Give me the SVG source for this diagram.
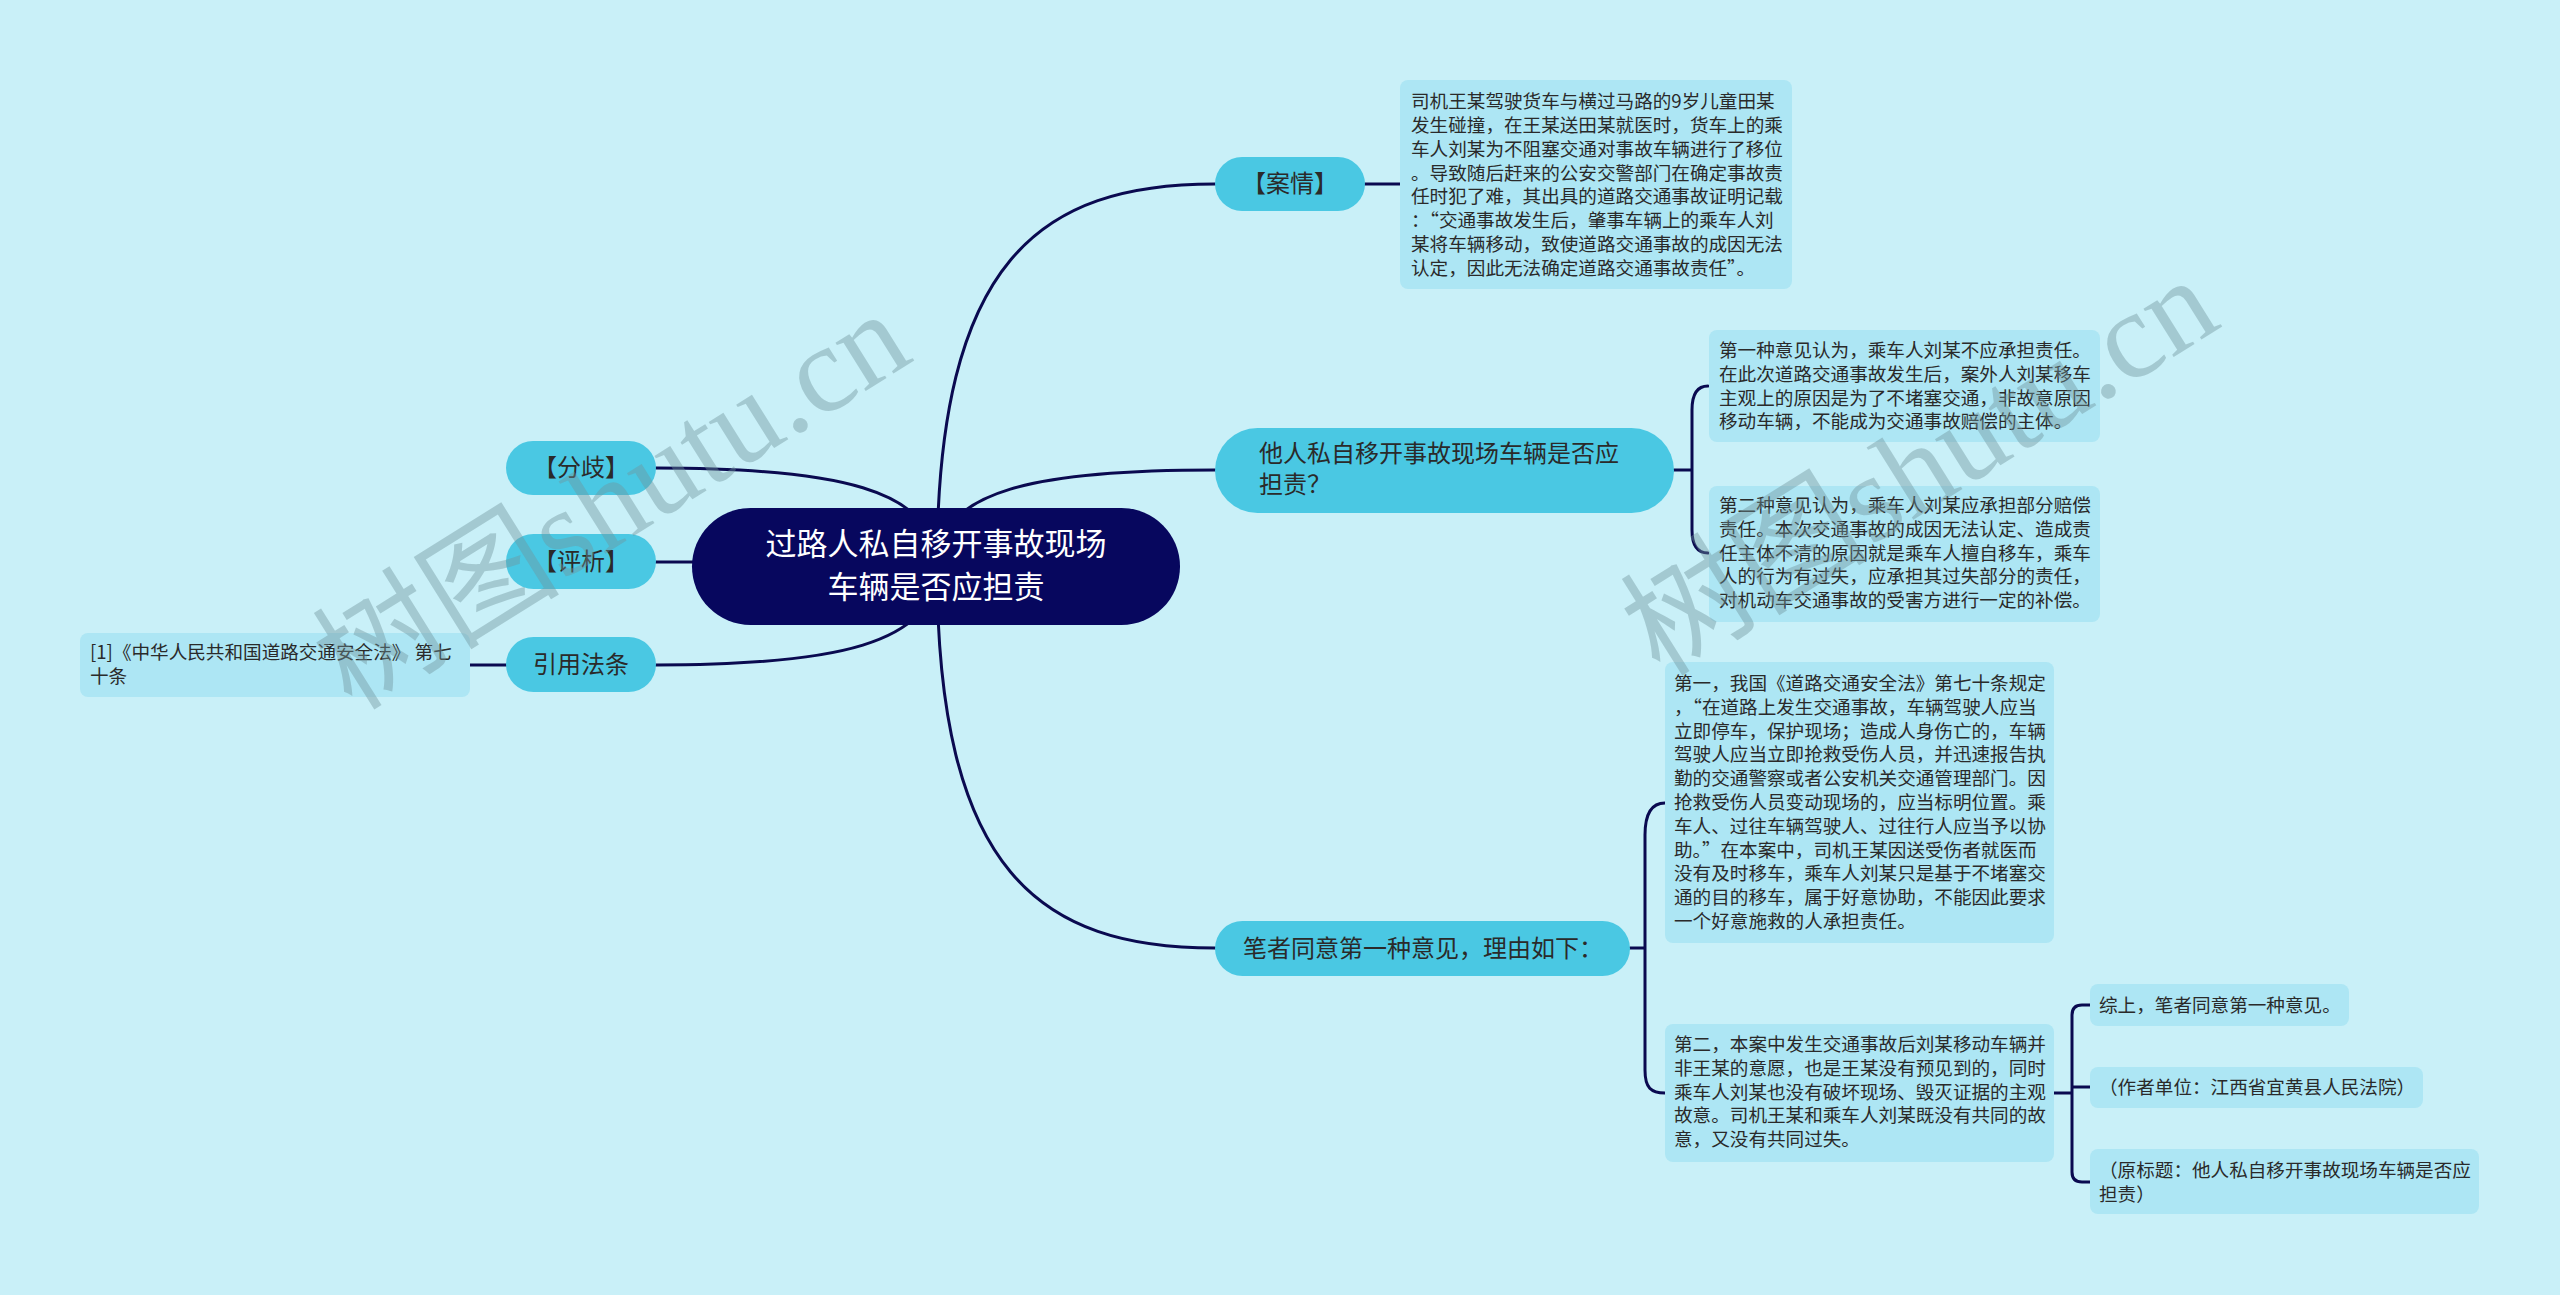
<svg xmlns="http://www.w3.org/2000/svg" width="2560" height="1295" viewBox="0 0 2560 1295">
<style>
.t{font-family:"Noto Sans CJK SC","Liberation Sans",sans-serif;fill:#2a2a2a}
.lt{font-size:18.6px}
.pt{font-size:24px}
.pill{fill:#4ac8e3}
.leaf{fill:#ade6f4}
.conn{fill:none;stroke:#0a0a50;stroke-width:3;stroke-linecap:round}
.wm{font-family:"Liberation Serif","Noto Sans CJK SC",serif;font-size:124px;fill:#6f939c;fill-opacity:0.42}
</style>
<rect x="0" y="0" width="2560" height="1295" fill="#c9f0f8"/>
<g id="connectors">
<path class="conn" d="M937,566 C937,260 1040,184 1215,184"/>
<path class="conn" d="M937,566 C937,489 1040,470 1215,470"/>
<path class="conn" d="M937,566 C937,872 1040,948 1215,948"/>
<path class="conn" d="M937,566 C937,488 833,468 656,468"/>
<path class="conn" d="M937,566 C937,562 833,562 656,562"/>
<path class="conn" d="M937,566 C937,645 833,665 656,665"/>
<path class="conn" d="M506,665 L470,665"/>
<path class="conn" d="M1365,184 L1400,184"/>
<path class="conn" d="M1674,470 L1692,470 M1708,386 C1697,386 1692,395 1692,410 L1692,530 C1692,545 1697,553 1708,553"/>
<path class="conn" d="M1630,948 L1645,948 M1665,803 C1651,803 1645,815 1645,835 L1645,1070 C1645,1088 1651,1093 1665,1093"/>
<path class="conn" d="M2054,1093 L2072,1093 M2090,1005 L2082,1005 Q2072,1005 2072,1015 L2072,1172 Q2072,1182 2082,1182 L2090,1182 M2072,1087 L2090,1087"/>
</g>
<g id="root">
<rect x="692" y="508" width="488" height="117" rx="58.5" fill="#07075e"/>
<text class="t" style="font-size:31px;fill:#ffffff" text-anchor="middle"><tspan x="936" y="555">过路人私自移开事故现场</tspan><tspan x="936" y="598">车辆是否应担责</tspan></text>
</g>
<g id="n-anqing">
<rect class="pill" x="1215" y="157" width="150" height="54" rx="27"/>
<text class="t pt" x="1290" y="192" text-anchor="middle">【案情】</text>
</g>
<g id="n-anqing-text">
<rect class="leaf" x="1400" y="80" width="392" height="209" rx="8"/>
<text class="t lt"><tspan x="1411" y="108">司机王某驾驶货车与横过马路的9岁儿童田某</tspan><tspan x="1411" y="132">发生碰撞，在王某送田某就医时，货车上的乘</tspan><tspan x="1411" y="156">车人刘某为不阻塞交通对事故车辆进行了移位</tspan><tspan x="1411" y="180">。导致随后赶来的公安交警部门在确定事故责</tspan><tspan x="1411" y="203">任时犯了难，其出具的道路交通事故证明记载</tspan><tspan x="1411" y="227">：“交通事故发生后，肇事车辆上的乘车人刘</tspan><tspan x="1411" y="251">某将车辆移动，致使道路交通事故的成因无法</tspan><tspan x="1411" y="275">认定，因此无法确定道路交通事故责任”。</tspan></text>
</g>
<g id="n-question">
<rect class="pill" x="1215" y="428" width="459" height="85" rx="42.5"/>
<text class="t pt"><tspan x="1259" y="462">他人私自移开事故现场车辆是否应</tspan><tspan x="1259" y="493">担责？</tspan></text>
</g>
<g id="n-opinion1">
<rect class="leaf" x="1709" y="330" width="391" height="112" rx="8"/>
<text class="t lt"><tspan x="1719" y="357">第一种意见认为，乘车人刘某不应承担责任。</tspan><tspan x="1719" y="381">在此次道路交通事故发生后，案外人刘某移车</tspan><tspan x="1719" y="405">主观上的原因是为了不堵塞交通，非故意原因</tspan><tspan x="1719" y="428">移动车辆，不能成为交通事故赔偿的主体。</tspan></text>
</g>
<g id="n-opinion2">
<rect class="leaf" x="1709" y="486" width="391" height="136" rx="8"/>
<text class="t lt"><tspan x="1719" y="512">第二种意见认为，乘车人刘某应承担部分赔偿</tspan><tspan x="1719" y="536">责任。本次交通事故的成因无法认定、造成责</tspan><tspan x="1719" y="560">任主体不清的原因就是乘车人擅自移车，乘车</tspan><tspan x="1719" y="583">人的行为有过失，应承担其过失部分的责任，</tspan><tspan x="1719" y="607">对机动车交通事故的受害方进行一定的补偿。</tspan></text>
</g>
<g id="n-author">
<rect class="pill" x="1215" y="921" width="415" height="55" rx="27.5"/>
<text class="t pt" x="1243" y="957">笔者同意第一种意见，理由如下：</text>
</g>
<g id="n-reason1">
<rect class="leaf" x="1665" y="662" width="389" height="281" rx="8"/>
<text class="t lt"><tspan x="1674" y="690">第一，我国《道路交通安全法》第七十条规定</tspan><tspan x="1674" y="714">，“在道路上发生交通事故，车辆驾驶人应当</tspan><tspan x="1674" y="738">立即停车，保护现场；造成人身伤亡的，车辆</tspan><tspan x="1674" y="761">驾驶人应当立即抢救受伤人员，并迅速报告执</tspan><tspan x="1674" y="785">勤的交通警察或者公安机关交通管理部门。因</tspan><tspan x="1674" y="809">抢救受伤人员变动现场的，应当标明位置。乘</tspan><tspan x="1674" y="833">车人、过往车辆驾驶人、过往行人应当予以协</tspan><tspan x="1674" y="857">助。”在本案中，司机王某因送受伤者就医而</tspan><tspan x="1674" y="880">没有及时移车，乘车人刘某只是基于不堵塞交</tspan><tspan x="1674" y="904">通的目的移车，属于好意协助，不能因此要求</tspan><tspan x="1674" y="928">一个好意施救的人承担责任。</tspan></text>
</g>
<g id="n-reason2">
<rect class="leaf" x="1665" y="1024" width="389" height="138" rx="8"/>
<text class="t lt"><tspan x="1674" y="1051">第二，本案中发生交通事故后刘某移动车辆并</tspan><tspan x="1674" y="1075">非王某的意愿，也是王某没有预见到的，同时</tspan><tspan x="1674" y="1099">乘车人刘某也没有破坏现场、毁灭证据的主观</tspan><tspan x="1674" y="1122">故意。司机王某和乘车人刘某既没有共同的故</tspan><tspan x="1674" y="1146">意，又没有共同过失。</tspan></text>
</g>
<g id="n-summary">
<rect class="leaf" x="2090" y="984" width="259" height="42" rx="8"/>
<text class="t lt" x="2099" y="1012">综上，笔者同意第一种意见。</text>
</g>
<g id="n-unit">
<rect class="leaf" x="2090" y="1067" width="333" height="41" rx="8"/>
<text class="t lt" x="2099" y="1094">（作者单位：江西省宜黄县人民法院）</text>
</g>
<g id="n-title">
<rect class="leaf" x="2090" y="1149" width="389" height="65" rx="8"/>
<text class="t lt"><tspan x="2099" y="1177">（原标题：他人私自移开事故现场车辆是否应</tspan><tspan x="2099" y="1201">担责）</tspan></text>
</g>
<g id="n-fenqi">
<rect class="pill" x="506" y="441" width="150" height="54" rx="27"/>
<text class="t pt" x="581" y="476" text-anchor="middle">【分歧】</text>
</g>
<g id="n-pingxi">
<rect class="pill" x="506" y="534" width="150" height="55" rx="27.5"/>
<text class="t pt" x="581" y="570" text-anchor="middle">【评析】</text>
</g>
<g id="n-law">
<rect class="pill" x="506" y="637" width="150" height="55" rx="27.5"/>
<text class="t pt" x="581" y="673" text-anchor="middle">引用法条</text>
</g>
<g id="n-law-text">
<rect class="leaf" x="80" y="633" width="390" height="64" rx="8"/>
<text class="t lt"><tspan x="90" y="659">[1]《中华人民共和国道路交通安全法》 第七</tspan><tspan x="90" y="683">十条</tspan></text>
</g>
<g id="watermarks">
<text class="wm" transform="translate(352,712) rotate(-32)">树图shutu.cn</text>
<text class="wm" transform="translate(1660,678) rotate(-32)">树图shutu.cn</text>
</g>
</svg>
